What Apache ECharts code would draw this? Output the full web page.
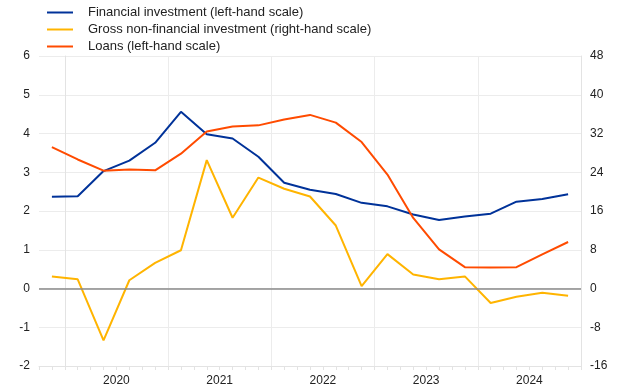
<!DOCTYPE html>
<html>
<head>
<meta charset="utf-8">
<script src="https://cdn.jsdelivr.net/npm/echarts@6/dist/echarts.min.js"></script>
<style>html,body{margin:0;padding:0;background:#fff}#c{width:620px;height:388px}</style>
</head>
<body>
<div id="c"></div>
<script>
// Quarters from 2019 Q4 to 2024 Q4
var quarters = ['2019Q4','2020Q1','2020Q2','2020Q3','2020Q4','2021Q1','2021Q2','2021Q3','2021Q4',
  '2022Q1','2022Q2','2022Q3','2022Q4','2023Q1','2023Q2','2023Q3','2023Q4','2024Q1','2024Q2','2024Q3','2024Q4'];
var yearLabels = ['2020','2021','2022','2023','2024'];
var financial = [2.37,2.38,3.03,3.30,3.76,4.56,3.98,3.87,3.40,2.73,2.55,2.44,2.21,2.12,1.91,1.77,1.86,1.93,2.24,2.31,2.43];
var grossNonFin = [2.5,1.9,-10.7,1.7,5.3,7.9,26.5,14.6,22.9,20.6,19.0,13.0,0.5,7.1,2.9,1.9,2.5,-3.0,-1.7,-0.9,-1.5];
var loans = [3.65,3.33,3.04,3.07,3.05,3.48,4.05,4.18,4.21,4.36,4.48,4.28,3.78,2.94,1.82,1.01,0.55,0.54,0.55,0.88,1.20];
var leftTicks = {min:-2, max:6, interval:1};
var rightTicks = {min:-16, max:48, interval:8};

// x position in quarters, 0 = start of 2020
function pts(arr){ return arr.map(function(v,i){ return [i-0.5, v]; }); }

var chart = echarts.init(document.getElementById('c'), null, {renderer:'canvas'});
var txt = '#222';
var grid = '#ececec';
var T = 'rgba(0,0,0,0)';
var splitColors = [T,T,grid,T,T,T,T,T];
var font = 'Liberation Sans, Arial, sans-serif';
chart.setOption({
  animation:false,
  textStyle:{fontFamily:font},
  grid:{left:39, right:39, top:56, bottom:22, containLabel:false},
  legend:{
    orient:'vertical', left:47, top:6, padding:0, itemWidth:26, itemHeight:2, itemGap:4,
    icon:'rect',
    textStyle:{fontSize:13, lineHeight:13, color:txt, fontFamily:font, padding:[0,0,0,10]},
    data:['Financial investment (left-hand scale)','Gross non-financial investment (right-hand scale)','Loans (left-hand scale)']
  },
  xAxis:{
    type:'value', min:-1, max:20, interval:0.5,
    axisLine:{show:true, onZero:false, lineStyle:{color:'#e3e3e3', width:1}},
    axisTick:{show:true, length:4, lineStyle:{color:'#e3e3e3'}},
    axisLabel:{fontSize:12, color:txt, margin:9, showMinLabel:true, showMaxLabel:true,
      formatter:function(v){ var t=Math.round(v*2)/2; if (t>=2 && (t-2)%4===0) { var k=(t-2)/4; return yearLabels[k]||''; } return ''; }},
    splitLine:{show:true, lineStyle:{color:splitColors, width:1}}
  },
  yAxis:[{
    type:'value', min:leftTicks.min, max:leftTicks.max, interval:leftTicks.interval,
    axisLine:{show:true, lineStyle:{color:'#e3e3e3'}},
    axisTick:{show:false},
    axisLabel:{fontSize:12, color:txt, margin:9},
    splitLine:{show:true, lineStyle:{color:grid}}
  },{
    type:'value', min:rightTicks.min, max:rightTicks.max, interval:rightTicks.interval,
    axisLine:{show:true, lineStyle:{color:'#e3e3e3'}},
    axisTick:{show:false},
    axisLabel:{fontSize:12, color:txt, margin:9},
    splitLine:{show:false}
  }],
  series:[{
    name:'Financial investment (left-hand scale)', type:'line', yAxisIndex:0, data:pts(financial),
    symbol:'none', lineStyle:{width:2, color:'#003299'}, itemStyle:{color:'#003299'},
    markLine:{silent:true, symbol:'none', label:{show:false}, lineStyle:{color:'#8a8a8a', width:1.5, type:'solid'}, data:[{yAxis:0}]}
  },{
    name:'Gross non-financial investment (right-hand scale)', type:'line', yAxisIndex:1, data:pts(grossNonFin),
    symbol:'none', lineStyle:{width:2, color:'#FFB400'}, itemStyle:{color:'#FFB400'}
  },{
    name:'Loans (left-hand scale)', type:'line', yAxisIndex:0, data:pts(loans),
    symbol:'none', lineStyle:{width:2, color:'#FF4B00'}, itemStyle:{color:'#FF4B00'}
  }]
});
</script>
</body>
</html>
